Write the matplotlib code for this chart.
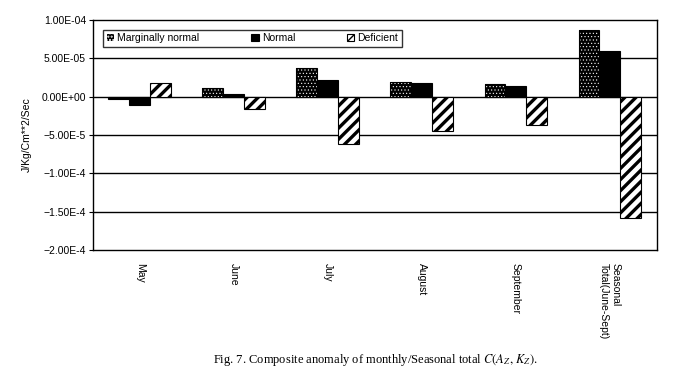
import numpy as np
import matplotlib.pyplot as plt

plt.rcParams['font.family'] = ['Liberation Sans', 'DejaVu Sans']
plt.rcParams['mathtext.fontset'] = 'stix'

categories = ["May", "June", "July", "August", "September", "Seasonal\nTotal(June-Sept)"]
marginal = [-0.3e-5, 1.15e-5, 3.75e-5, 1.9e-5, 1.65e-5, 8.7e-5]
normal = [-1.1e-5, 0.35e-5, 2.2e-5, 1.8e-5, 1.4e-5, 6.0e-5]
deficient = [1.8e-5, -1.6e-5, -6.2e-5, -4.5e-5, -3.7e-5, -15.8e-5]
yticks = [1e-4, 5e-5, 0, -5e-5, -1e-4, -1.5e-4, -2e-4]
yticklabels = ["1.00E-04", "5.00E-05", "0.00E+00", "\u22125.00E-5", "\u22121.00E-4", "\u22121.50E-4", "\u22122.00E-4"]

fig = plt.figure(figsize=(6.78, 3.87), dpi=100)
ax = fig.add_axes([0.137, 0.354, 0.832, 0.594])

x = np.arange(len(categories))
w = 0.223

for t in yticks[1:-1]:
    ax.axhline(t, color='black', lw=1, zorder=1)

# marginally normal: black with small white dots, black outline drawn on top
with plt.rc_context({'hatch.linewidth': 0.4}):
    b1 = ax.bar(x - w, marginal, w, color='black', edgecolor='white', hatch='.....', lw=0, zorder=2)
ax.bar(x - w, marginal, w, fill=False, edgecolor='black', lw=0.8, zorder=3)
b2 = ax.bar(x, normal, w, color='black', edgecolor='black', lw=0.8, zorder=2)
with plt.rc_context({'hatch.linewidth': 2.4}):
    b3 = ax.bar(x + w, deficient, w, color='white', edgecolor='black', hatch='///', lw=0.8, zorder=2)

ax.set_xlim(-0.5, len(categories) - 0.5)
ax.set_ylim(-2e-4, 1e-4)
ax.set_yticks(yticks)
ax.set_yticklabels(yticklabels, fontsize=7.5)
ax.set_xticks(x)
ax.set_xticklabels(categories, rotation=270, fontsize=7.5, va='top', ha='center', multialignment='left')
ax.tick_params(axis='x', length=0, pad=9)
ax.tick_params(axis='y', length=3, width=0.8, pad=2)
for s in ax.spines.values():
    s.set_linewidth(1)
ax.set_ylabel("J/Kg/Cm**2/Sec", fontsize=7.5, labelpad=7)

leg = ax.legend([b1, b2, b3], ["Marginally normal", "Normal", "Deficient"],
                loc='lower left', bbox_to_anchor=(0.018, 0.883, 0.53, 0.082), mode='expand',
                ncol=3, fontsize=7.5, frameon=True, fancybox=False, edgecolor='black',
                handlelength=0.7, handleheight=0.7, handletextpad=0.3, borderaxespad=0,
                borderpad=0.35)
leg.get_frame().set_linewidth(1)

fig.text(0.553, 0.07, r"Fig. 7. Composite anomaly of monthly/Seasonal total $C(A_Z,\,K_Z)$.",
         ha='center', va='center', fontsize=9, family='Liberation Serif')

fig.savefig("out.png", dpi=100)
